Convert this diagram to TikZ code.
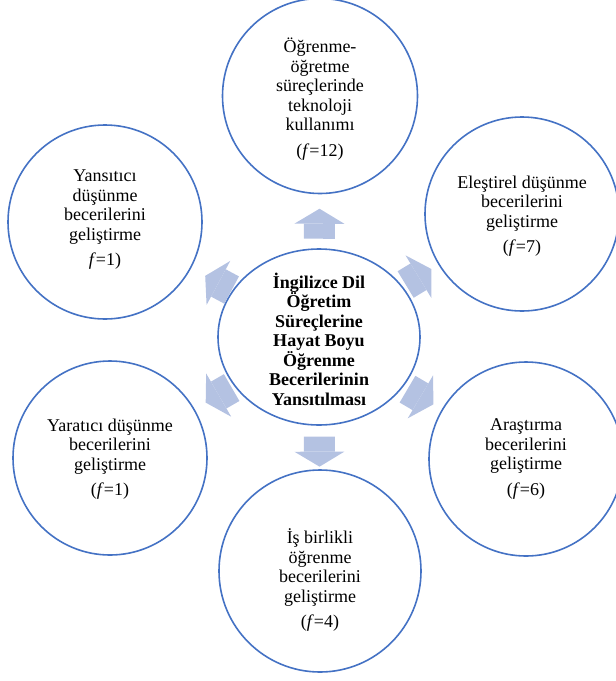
\documentclass[tikz,border=0pt]{standalone}
\usepackage{fontspec}
\setmainfont{Liberation Serif}
\usetikzlibrary{arrows.meta,calc,shapes.geometric}
\definecolor{ringblue}{HTML}{4472C4}
\definecolor{arrowfill}{HTML}{B4C2E2}

\tikzset{
  ring/.style={circle, draw=ringblue, line width=1.6pt, minimum size=#1, inner sep=0pt},
  hub/.style={ellipse, draw=ringblue, line width=1.6pt, minimum width=202pt, minimum height=176pt, inner sep=0pt},
  ringtext/.style={align=center, inner sep=0pt, font=\fontsize{18}{19.5}\selectfont},
  hubtext/.style={ringtext, font=\fontsize{18}{19.5}\selectfont\bfseries},
  blockarrow/.style={arrowfill, line width=31pt, -{Triangle[length=15pt,width=50pt,line width=0pt]}},
}

\begin{document}
\begin{tikzpicture}[x=1pt, y=-1pt]
\useasboundingbox (0,0) rectangle (616,681);

% --- Center ---
\node[hub] (hub) at (319,337) {};
\node[hubtext] (hubtxt) at (319,339)
  {İngilizce Dil\\Öğretim\\Süreçlerine\\Hayat Boyu\\Öğrenme\\Becerilerinin\\Yansıtılması};

% --- Outer circles ---
\node[ring=195pt] (top) at (320,96) {};
\node[ring=194pt] (ul) at (105,222) {};
\node[ring=194pt] (ur) at (522,214) {};
\node[ring=194pt] (ll) at (110,458) {};
\node[ring=194pt] (lr) at (526,459) {};
\node[ring=202pt] (bot) at (320,571) {};

% Labels
\node[ringtext] (toptxt) at (320,99)
  {Öğrenme-\\öğretme\\süreçlerinde\\teknoloji\\kullanımı\\[6pt](\textit{f}=12)};
\node[ringtext] (ultxt) at (105,220)
  {Yansıtıcı\\düşünme\\becerilerini\\geliştirme\\[6pt]\textit{f}=1)};
\node[ringtext] (urtxt) at (522,216)
  {Eleştirel düşünme\\becerilerini\\geliştirme\\[6pt](\textit{f}=7)};
\node[ringtext] (lltxt) at (110,459)
  {Yaratıcı düşünme\\becerilerini\\geliştirme\\[6pt](\textit{f}=1)};
\node[ringtext] (lrtxt) at (526,459)
  {Araştırma\\becerilerini\\geliştirme\\[6pt](\textit{f}=6)};
\node[ringtext] (bottxt) at (320,580)
  {İş birlikli\\öğrenme\\becerilerini\\geliştirme\\[6pt](\textit{f}=4)};

% Arrows from the center outwards
\foreach \o/\p in {top/0.47, ur/0.49, lr/0.49, bot/0.49, ll/0.48, ul/0.47}
  \draw[blockarrow] ($(hub)!\p!(\o)!-15pt!(\o)$) -- ($(hub)!\p!(\o)!15pt!(\o)$);

\end{tikzpicture}
\end{document}
